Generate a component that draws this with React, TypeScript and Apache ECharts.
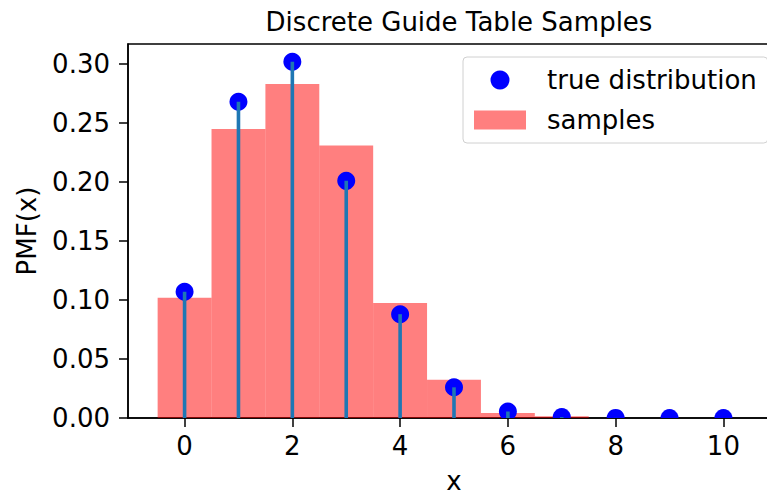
import React, { useEffect, useRef } from "react";
import * as echarts from "echarts";

const binCenters = [0, 1, 2, 3, 4, 5, 6, 7];
const sampleFreq = [0.102, 0.245, 0.283, 0.231, 0.0975, 0.0325, 0.0042, 0.0015];
const xValues = [0, 1, 2, 3, 4, 5, 6, 7, 8, 9, 10];
const truePmf = [0.107, 0.268, 0.302, 0.201, 0.088, 0.026, 0.0055, 0.0008, 0.0001, 0.0, 0.0];
const xTicks = [0, 2, 4, 6, 8, 10];
const yTicks = [0, 0.05, 0.1, 0.15, 0.2, 0.25, 0.3];

const FONT = "DejaVu Sans";
const FS = 26;

export default function App() {
  const ref = useRef<HTMLDivElement>(null);
  useEffect(() => {
    if (!ref.current) return;
    const chart = echarts.init(ref.current, null, { renderer: "svg" });
    const histData = binCenters.map((c, i) => [c, sampleFreq[i]]);
    const pmfData = xValues.map((c, i) => [c, truePmf[i]]);
    chart.setOption({
      animation: false,
      backgroundColor: "#ffffff",
      textStyle: { fontFamily: FONT },
      title: {
        text: "Discrete Guide Table Samples",
        left: 454,
        top: 4,
        textAlign: "center",
        textStyle: { fontFamily: FONT, fontSize: FS, fontWeight: "normal", color: "#000" },
      },
      legend: {
        orient: "vertical",
        left: 463,
        top: 57,
        padding: [10, 11, 10, 11],
        itemWidth: 52,
        itemHeight: 19,
        itemGap: 14,
        backgroundColor: "#ffffff",
        borderColor: "#d0d0d0",
        borderWidth: 1,
        borderRadius: 4,
        selectedMode: false,
        textStyle: { fontFamily: FONT, fontSize: FS, color: "#000", lineHeight: 26, padding: [0, 0, 0, 16] },
        data: [
          { name: "true distribution", icon: "circle", itemStyle: { color: "#0000ff" } },
          { name: "samples", icon: "rect", itemStyle: { color: "rgba(255,0,0,0.5)" } },
        ],
      },
      grid: {
        left: 128,
        top: 44,
        width: 652,
        height: 374,
        show: true,
        containLabel: false,
        outerBoundsMode: "none",
        borderColor: "#000",
        borderWidth: 1.5,
        backgroundColor: "transparent",
      },
      xAxis: {
        type: "value",
        min: -1.05,
        max: 11.05,
        name: "x",
        nameLocation: "middle",
        nameGap: 53,
        nameTextStyle: { fontFamily: FONT, fontSize: FS, color: "#000", lineHeight: 20 },
        splitLine: { show: false },
        axisLine: { show: true, onZero: false, lineStyle: { color: "#000", width: 1.5 } },
        axisTick: { show: true, length: 9, lineStyle: { color: "#000", width: 1.5 }, customValues: xTicks },
        axisLabel: { fontFamily: FONT, fontSize: FS, color: "#000", margin: 15, customValues: xTicks },
      },
      yAxis: {
        type: "value",
        min: 0,
        max: 0.317,
        name: "PMF(x)",
        nameLocation: "middle",
        nameRotate: 90,
        nameGap: 88,
        nameTextStyle: { fontFamily: FONT, fontSize: FS, color: "#000" },
        splitLine: { show: false },
        axisLine: { show: true, onZero: false, lineStyle: { color: "#000", width: 1.5 } },
        axisTick: { show: true, length: 9, lineStyle: { color: "#000", width: 1.5 }, customValues: yTicks },
        axisLabel: {
          fontFamily: FONT,
          fontSize: FS,
          color: "#000",
          margin: 18,
          customValues: yTicks,
          formatter: (v: number) => v.toFixed(2),
        },
      },
      series: [
        {
          type: "custom",
          name: "samples",
          z: 1,
          clip: true,
          itemStyle: { color: "rgba(255,0,0,0.5)" },
          encode: { x: 0, y: 1 },
          data: histData,
          renderItem: (params: any, api: any) => {
            const x = api.value(0);
            const h = api.value(1);
            const p1 = api.coord([x - 0.5, h]);
            const p2 = api.coord([x + 0.5, 0]);
            return {
              type: "rect",
              shape: { x: p1[0], y: p1[1], width: p2[0] - p1[0], height: p2[1] - p1[1] },
              style: { fill: "rgba(255,0,0,0.5)" },
            };
          },
        },
        {
          type: "custom",
          name: "true distribution",
          z: 3,
          clip: true,
          itemStyle: { color: "#0000ff" },
          encode: { x: 0, y: 1 },
          data: pmfData,
          renderItem: (params: any, api: any) => {
            const p = api.coord([api.value(0), api.value(1)]);
            return {
              type: "circle",
              shape: { cx: p[0], cy: p[1], r: 9 },
              style: { fill: "#0000ff" },
            };
          },
        },
        {
          type: "custom",
          name: "stems",
          z: 4,
          clip: true,
          encode: { x: 0, y: 1 },
          data: pmfData,
          renderItem: (params: any, api: any) => {
            const x = api.value(0);
            const p0 = api.coord([x, 0]);
            const p1 = api.coord([x, api.value(1)]);
            return {
              type: "line",
              shape: { x1: p0[0], y1: p0[1], x2: p1[0], y2: p1[1] },
              style: { stroke: "#1f77b4", lineWidth: 3.6 },
            };
          },
        },
      ],
    });
    return () => chart.dispose();
  }, []);
  return (
    <div
      ref={ref}
      style={{ position: "fixed", left: 0, top: 0, width: 767, height: 497, background: "#fff" }}
    />
  );
}
